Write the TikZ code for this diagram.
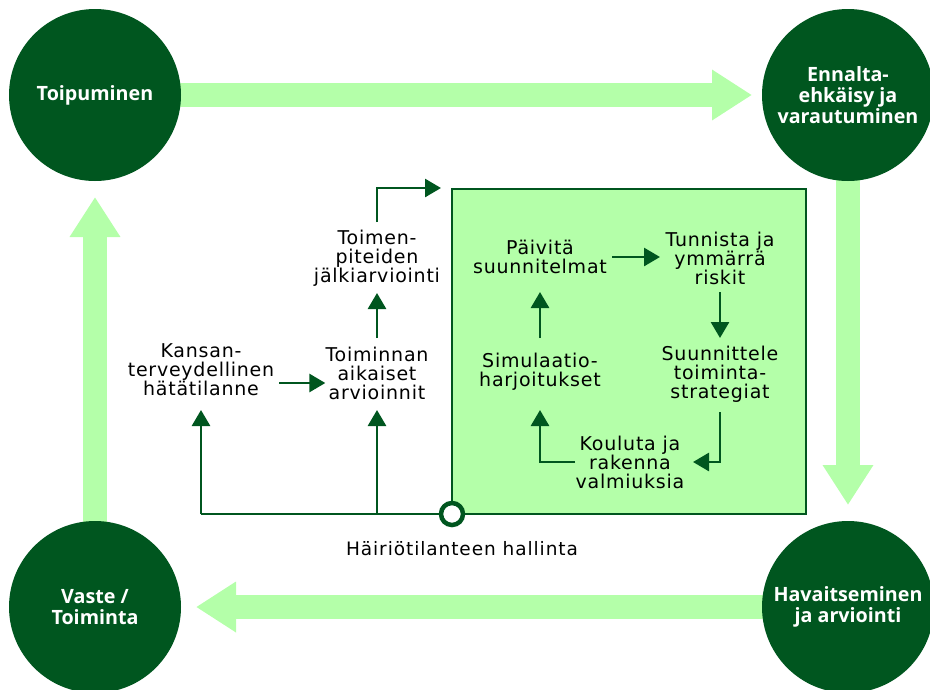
\documentclass[tikz,border=0pt]{standalone}
\usepackage{fontspec}
\setmainfont{DejaVu Sans}
\newfontfamily\circfont{Open Sans}
\newfontfamily\bodyfont[LetterSpace=4]{DejaVu Sans}
\newfontfamily\capfont[LetterSpace=5]{DejaVu Sans}
\usetikzlibrary{arrows.meta,calc}
\definecolor{dkgreen}{HTML}{00561F}
\definecolor{ltgreen}{HTML}{B4FFA9}
\tikzset{
  phase/.style={circle,fill=dkgreen,minimum size=172pt,inner sep=0pt,text=white,
    align=center,font=\circfont\bfseries\fontsize{19.7}{21}\selectfont},
  bigarrow/.style={ltgreen,line width=24pt,-{Triangle[length=40pt,width=48pt]}},
  lbl/.style={align=center,inner sep=0pt,font=\bodyfont\fontsize{19}{19}\selectfont},
  darr/.style={dkgreen,line width=2.8pt,-{Triangle[length=16pt,width=18pt]}},
  dline/.style={dkgreen,line width=2.8pt},
}
\begin{document}
\begin{tikzpicture}[x=1pt,y=-1pt]
\useasboundingbox (0,0) rectangle (930,689);
% phase circle positions
\coordinate (cT) at (95,95);
\coordinate (cE) at (848,95);
\coordinate (cV) at (95,607);
\coordinate (cH) at (848,607);
% big arrows
\draw[bigarrow,shorten >=10pt] (cT) -- ($(cE)+(-86,0)$);
\draw[bigarrow,shorten >=16pt] (cE) -- ($(cH)+(0,-86)$);
\draw[bigarrow,shorten >=15pt] (cH) -- ($(cV)+(86,0)$);
\draw[bigarrow,shorten >=16pt] (cV) -- ($(cT)+(0,86)$);
% circles
\node[phase] (toip) at (cT) {Toipuminen};
\node[phase] (enn) at (cE) {Ennalta-\\ehkäisy ja\\varautuminen};
\node[phase] (vaste) at (cV) {Vaste /\\Toiminta};
\node[phase] (hav) at (cH) {Havaitseminen\\ja arviointi};
% box
\node[draw=dkgreen,fill=ltgreen,line width=2pt,minimum width=354pt,minimum height=325pt,inner sep=0pt] (box) at (629,351.5) {};
% labels outside
\node[lbl] (kan) at (201,370) {Kansan-\\terveydellinen\\hätätilanne};
\node[lbl] (toim) at (377,373) {Toiminnan\\aikaiset\\arvioinnit};
\node[lbl] (jalk) at (377,258) {Toimen-\\piteiden\\jälkiarviointi};
% labels inside
\node[lbl] (paiv) at (540,257) {Päivitä\\suunnitelmat};
\node[lbl] (tunn) at (720,258) {Tunnista ja\\ymmärrä\\riskit};
\node[lbl] (suun) at (720,374) {Suunnittele\\toiminta-\\strategiat};
\node[lbl] (sim) at (540,372) {Simulaatio-\\harjoitukset};
\node[lbl] (kou) at (630,462) {Kouluta ja\\rakenna\\valmiuksia};
% hub
\coordinate (hubc) at (452,514);
\draw[dline] (hubc) -- (201,514) coordinate (cornerL);
\draw[darr] (cornerL) -- (201,410);
\draw[darr] (377,514) -- (377,410);
\draw[darr] (279,383) -- (toim.west |- 0,383);
\draw[darr] (377,338) -- (377,293);
\draw[darr] (377,222) -- (377,188) -- (441,188);
% inner cycle
\draw[darr] (612,257) -- (660,257);
\draw[darr] (720,292) -- (720,338);
\draw[darr] (720,412) -- (720,462) -- (693,462);
\draw[darr] (575,462) -- (540,462) -- (540,410);
\draw[darr] (540,338) -- (540,292);
\node[circle,draw=dkgreen,fill=white,line width=4.5pt,minimum size=22pt,inner sep=0pt] (hub) at (hubc) {};
\node[font=\capfont\fontsize{18.5}{19}\selectfont,inner sep=0pt] (cap) at (462,549) {Häiriötilanteen hallinta};
\end{tikzpicture}
\end{document}
